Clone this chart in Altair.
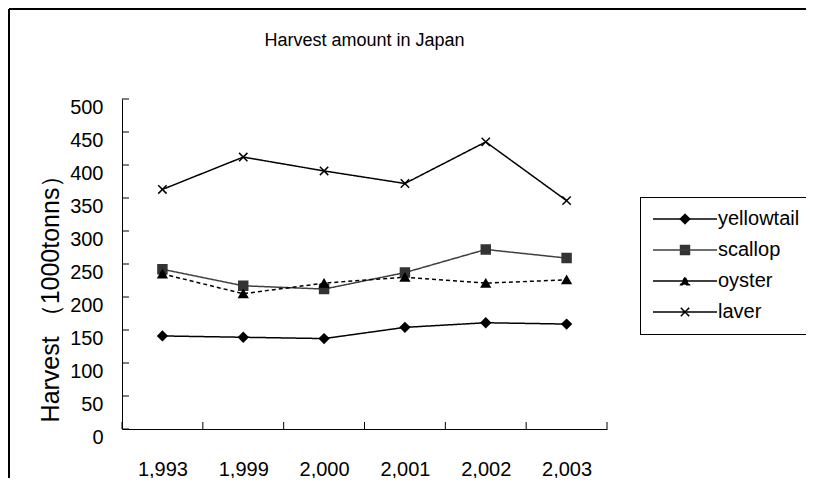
import json
import altair as alt
import pandas as pd

# ---- data ----
years = ["1,993", "1,999", "2,000", "2,001", "2,002", "2,003"]
series = ["yellowtail", "scallop", "oyster", "laver"]
yellowtail = [141, 139, 137, 154, 161, 159]
scallop = [242, 217, 212, 237, 272, 259]
oyster = [235, 205, 221, 230, 221, 226]
laver = [363, 412, 391, 372, 435, 346]
y_ticks = [0, 50, 100, 150, 200, 250, 300, 350, 400, 450, 500]

values = {"yellowtail": yellowtail, "scallop": scallop, "oyster": oyster, "laver": laver}
rows = []
for s in series:
    for i, (yr, v) in enumerate(zip(years, values[s])):
        rows.append({"series": s, "idx": i, "year": yr, "value": v})
df = pd.DataFrame(rows)
x_bounds = pd.DataFrame({"idx": [i - 0.5 for i in range(len(years) + 1)]})
y_bounds = pd.DataFrame({"value": y_ticks})

line_colors = ["#000000", "#3f3f3f", "#000000", "#000000"]
point_colors = ["#000000", "#333333", "#000000", "#000000"]
dashes = [[1, 0], [1, 0], [4, 3], [1, 0]]
shapes = ["diamond", "square", "triangle-up", "M-1,-1L1,1M-1,1L1,-1"]
sizes = [85, 70, 115, 90]

W, H = 485, 330
FONT = "Liberation Sans"

xscale = alt.Scale(domain=[-0.5, len(years) - 0.5], nice=False, zero=False)
yscale = alt.Scale(domain=[0, 500], nice=False)

label_expr = json.dumps(years) + "[datum.value]"

x_axis = alt.Axis(title=None, values=list(range(len(years))), labelExpr=label_expr,
                  ticks=False, grid=False, labelFontSize=20, labelFont=FONT,
                  labelBaseline="middle", labelPadding=40, domainColor="black",
                  labelColor="black", labelFlush=False, labelOverlap=False)
y_axis = alt.Axis(title="Harvest （1000tonns）", values=y_ticks, ticks=False, grid=False,
                  labelFontSize=20, labelFont=FONT, labelPadding=19, labelOffset=8,
                  labelOverlap=False, domainColor="black", labelColor="black",
                  titleFontSize=25, titleFont=FONT, titleFontWeight="normal",
                  titleColor="black", titleX=-72, titleY=193, titleAngle=270,
                  titleAlign="center", titleBaseline="middle")


def xe():
    return alt.X("idx:Q", scale=xscale, axis=x_axis)


def ye():
    return alt.Y("value:Q", scale=yscale, axis=y_axis)


LX, LY = 518, 98
common_leg = dict(title=None, orient="none", legendX=LX, legendY=LY, padding=12,
                  symbolSize=64, symbolOffset=23, labelOffset=23, labelFontSize=20,
                  labelFont=FONT, labelColor="black", rowPadding=11)

line_leg = alt.Legend(symbolType="M-8,0H8", symbolStrokeWidth=1.5, strokeColor="black",
                      **common_leg)
point_leg = alt.Legend(symbolStrokeWidth=1.2, labelOpacity=0, **common_leg)

base = alt.Chart(df)

lines = base.mark_line(strokeWidth=1.5).encode(
    x=xe(), y=ye(),
    color=alt.Color("series:N", scale=alt.Scale(domain=series, range=line_colors), legend=line_leg),
    strokeDash=alt.StrokeDash("series:N", scale=alt.Scale(domain=series, range=dashes), legend=line_leg),
    detail="series:N",
)

points = base.mark_point(strokeWidth=1.5, opacity=1).encode(
    x=xe(), y=ye(),
    fill=alt.Fill("series:N", scale=alt.Scale(domain=series, range=point_colors), legend=point_leg),
    stroke=alt.Stroke("series:N", scale=alt.Scale(domain=series, range=point_colors), legend=point_leg),
    shape=alt.Shape("series:N", scale=alt.Scale(domain=series, range=shapes), legend=point_leg),
    size=alt.Size("series:N", scale=alt.Scale(domain=series, range=sizes), legend=None),
)

xticks = alt.Chart(x_bounds).mark_rule(color="black", strokeWidth=1).encode(
    x=xe(), y=alt.value(H), y2=alt.value(H - 7))
yticks = alt.Chart(y_bounds).mark_rule(color="black", strokeWidth=1).encode(
    y=ye(), x=alt.value(0), x2=alt.value(7))

frame_df = pd.DataFrame({"k": [0]})
frame_top = alt.Chart(frame_df).mark_rule(color="black", strokeWidth=2).encode(
    x=alt.value(-113), x2=alt.value(800), y=alt.value(-90))
frame_left = alt.Chart(frame_df).mark_rule(color="black", strokeWidth=2).encode(
    x=alt.value(-113), y=alt.value(-90), y2=alt.value(500))

chart = alt.layer(lines, points, xticks, yticks, frame_top, frame_left).resolve_scale(
    color="independent"
).properties(
    width=W, height=H,
    background="white",
    title=alt.TitleParams("Harvest amount in Japan", font="Liberation Sans Narrow, Liberation Sans",
                          fontSize=18, fontWeight="normal", color="black", anchor="middle",
                          frame="group", offset=-56, baseline="alphabetic"),
    autosize=alt.AutoSizeParams(type="none"),
    padding={"left": 114, "top": 91, "right": 199, "bottom": 49},
).configure_view(strokeWidth=0, stroke="transparent")

chart.save("out.html", embed_options={"renderer": "svg", "actions": False})
